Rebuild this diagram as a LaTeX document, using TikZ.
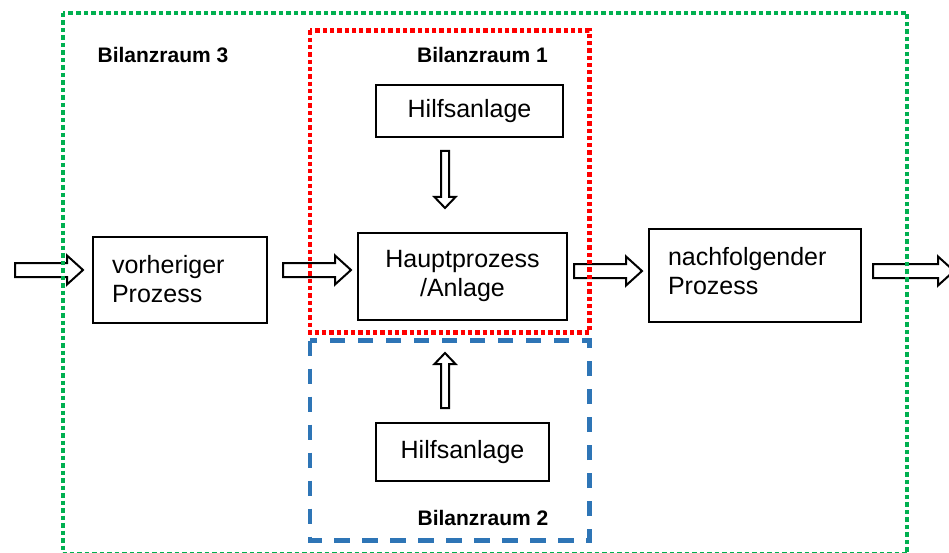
\documentclass[tikz,border=0pt]{standalone}
\usepackage{fontspec}
\setmainfont{Liberation Sans}
\usetikzlibrary{calc}
\definecolor{bzgreen}{RGB}{0,176,80}
\definecolor{bzred}{RGB}{255,0,0}
\definecolor{bzblue}{RGB}{46,117,182}
\tikzset{
  procbox/.style={draw=black, line width=2pt, fill=white, rectangle, inner sep=0pt,
    font=\fontsize{25}{29}\selectfont},
  multiline/.style={align=left, text width=#1},
  bzlabel/.style={anchor=base, inner sep=0pt, font=\fontsize{21}{25}\selectfont\bfseries},
  blockarrowstyle/.style={draw=black, line width=2pt, fill=white, line join=miter},
  bz3/.style={draw=bzgreen, line width=4.5pt, dash pattern=on 4.5pt off 3pt},
  bz1/.style={draw=bzred, line width=4.5pt, dash pattern=on 4.3pt off 3pt},
  bz2/.style={draw=bzblue, line width=4.5pt, dash pattern=on 15.5pt off 12.5pt},
}
% start, end, shaft half width, head half width, head length
\newcommand\blockarrow[5]{%
  \path let \p1=#1, \p2=#2,
      \n1={atan2(\y2-\y1,\x2-\x1)}, \n2={veclen(\x2-\x1,\y2-\y1)} in
    [blockarrowstyle, shift={(\p1)}, rotate=\n1]
    (0,-#3) -- ({\n2-#5},-#3) -- ({\n2-#5},-#4) -- (\n2,0)
    -- ({\n2-#5},#4) -- ({\n2-#5},#3) -- (0,#3) -- cycle;%
}
\begin{document}
\begin{tikzpicture}[x=1pt, y=-1pt]
\useasboundingbox (0,0) rectangle (949,553);

% process boxes
\node[procbox, minimum width=174pt, minimum height=86pt, multiline=136pt,
      text height=18pt, text depth=32pt] (vor) at (180,280)
  {vorheriger\\Prozess};
\node[procbox, minimum width=209pt, minimum height=87pt, align=center, text width=200pt,
      text height=18pt, text depth=37pt] (haupt) at (462.5,276.5)
  {Hauptprozess\\/Anlage};
\node[procbox, minimum width=212pt, minimum height=93pt, multiline=174pt,
      text height=18pt, text depth=39pt] (nach) at (755,275.5)
  {nachfolgender\\Prozess};
\node[procbox, minimum width=187pt, minimum height=52pt] (hilf1) at (469.5,111)
  {Hilfsanlage};
\node[procbox, minimum width=173pt, minimum height=58pt] (hilf2) at (462.5,452)
  {Hilfsanlage};

% free ends
\coordinate (inflow) at (15,270);
\coordinate (outflow) at (954,271);

% block arrows
\blockarrow{(inflow)}{([shift={(-9,-10)}]vor.west)}{7}{14.5}{16}
\blockarrow{([shift={(15,-10)}]vor.east)}{([shift={(-6,-6.5)}]haupt.west)}{7}{14.5}{16}
\blockarrow{([shift={(6,-5.5)}]haupt.east)}{([shift={(-6,-4.5)}]nach.west)}{7}{14.5}{16}
\blockarrow{([shift={(11,-4.5)}]nach.east)}{(outflow)}{7}{14.5}{16}
\blockarrow{([shift={(-24.5,13)}]hilf1.south)}{([shift={(-17.5,-24)}]haupt.north)}{4}{10.5}{11}
\blockarrow{([shift={(-17.5,-14)}]hilf2.north)}{([shift={(-17.5,32)}]haupt.south)}{4}{10.5}{11}

% balance boundaries
\draw[bz3] (63,13) rectangle (907,554);
\draw[bz1] (310,30.5) rectangle (589.5,332.5);
\draw[bz2] (310,340.5) rectangle (589.5,540.5);

% labels
\node[bzlabel] (lbl3) at (163,62.5) {Bilanzraum 3};
\node[bzlabel] (lbl1) at (482.5,62.5) {Bilanzraum 1};
\node[bzlabel] (lbl2) at (483,525) {Bilanzraum 2};
\end{tikzpicture}
\end{document}
